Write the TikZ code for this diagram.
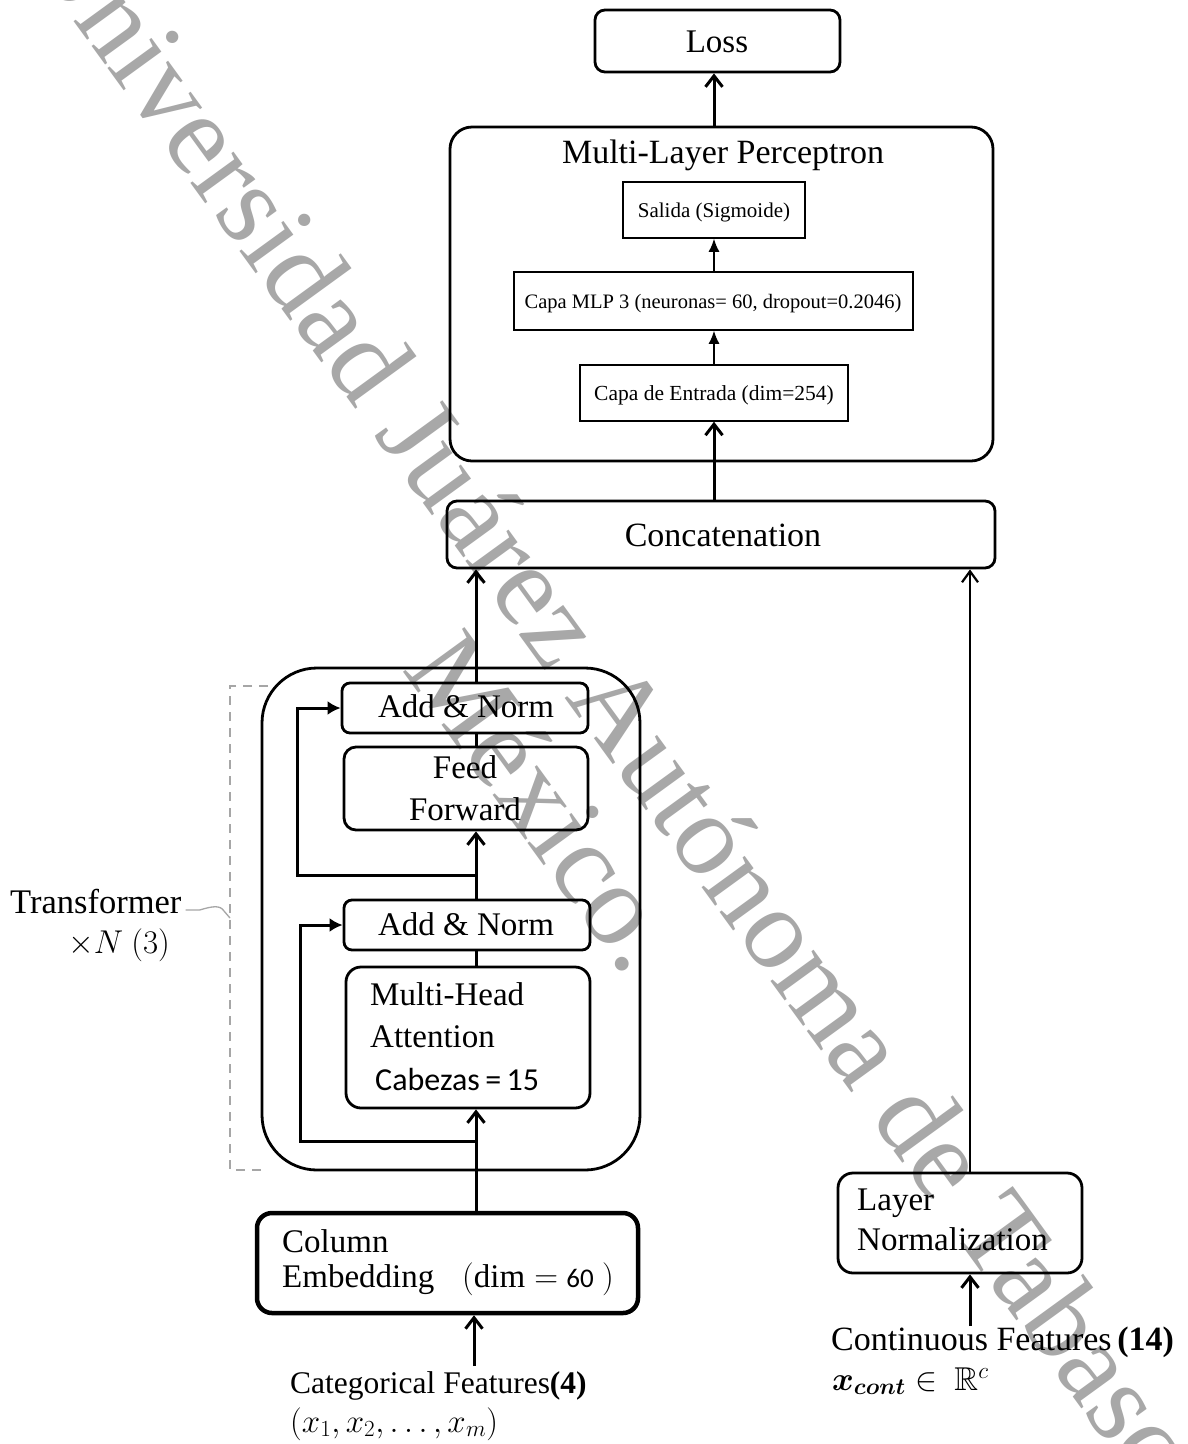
\RequirePackage{fix-cm}
\documentclass[tikz,border=0pt]{standalone}
\usepackage{amsmath,amssymb}
\usepackage{fontspec}
\setmainfont{Liberation Serif}
\newfontfamily\carl{Carlito}
\usetikzlibrary{arrows.meta}
\definecolor{wmgray}{gray}{0.66}

\begin{document}
\begin{tikzpicture}[x=1pt,y=-1pt,
  rbox/.style={draw, line width=2.8pt, inner sep=0pt, rounded corners=10pt},
  sbox/.style={draw, line width=1.5pt, inner sep=0pt},
  txt/.style={inner sep=0pt, font=\fontsize{33}{40}\selectfont},
  wm/.style={inner sep=0pt, text=wmgray, font=\fontsize{116}{130}\selectfont},
  arr/.style={line width=3pt, -{Straight Barb[length=11pt,width=17pt]}},
  thinarr/.style={line width=2.2pt, -{Straight Barb[length=11pt,width=16pt]}},
  farr/.style={line width=1.6pt, -{Latex[length=13pt,width=11pt]}},
  rarr/.style={line width=3pt, -{Latex[length=13pt,width=14pt]}},
  link/.style={line width=3pt},
  brk/.style={draw=gray!70, line width=1.4pt, dash pattern=on 9pt off 7pt}
]
\useasboundingbox (0,0) rectangle (1187,1444);
\fill[white] (0,0) rectangle (1187,1444);

% watermark
\node[wm, anchor=base west, rotate=-54] (wm1) at (23,-48) {Universidad Juárez Autónoma de Tabasco.};
\node[wm, anchor=base west, rotate=-54] (wm2) at (401,669) {México.};

% MLP part
\node[rbox, minimum width=245pt, minimum height=62pt] (loss) at (717.5,41) {};
\node[txt, anchor=base] (losst) at (717,52) {Loss};
\node[rbox, rounded corners=22pt, minimum width=543pt, minimum height=334pt] (mlp) at (721.5,294) {};
\node[txt, anchor=base, font=\fontsize{34}{40}\selectfont] (mlpt) at (723,163) {Multi-Layer Perceptron};
\node[sbox, minimum width=182pt, minimum height=56pt] (salida) at (714,210) {};
\node[txt, anchor=base, font=\fontsize{21}{24}\selectfont] (salidat) at (714,217) {Salida (Sigmoide)};
\node[sbox, minimum width=399pt, minimum height=58pt] (mlp3) at (713.5,301) {};
\node[txt, anchor=base, font=\fontsize{20.5}{24}\selectfont] (mlp3t) at (713,308) {Capa MLP 3 (neuronas= 60, dropout=0.2046)};
\node[sbox, minimum width=268pt, minimum height=56pt] (entrada) at (714,393) {};
\node[txt, anchor=base, font=\fontsize{21.5}{24}\selectfont] (entradat) at (714,400) {Capa de Entrada (dim=254)};

\node[rbox, minimum width=548pt, minimum height=67pt] (concat) at (721,534.5) {};
\node[txt, anchor=base, font=\fontsize{34}{40}\selectfont] (concatt) at (723,546) {Concatenation};

\coordinate (mx) at (714,0);
\draw[arr] (mlp.north -| mx) -- (loss.south -| mx);
\draw[farr] (mlp3.north -| mx) -- (salida.south -| mx);
\draw[farr] (entrada.north -| mx) -- (mlp3.south -| mx);
\draw[arr] (concat.north -| mx) -- (entrada.south -| mx);

% Transformer block
\node[rbox, rounded corners=55pt, minimum width=378pt, minimum height=502pt] (trans) at (451,919) {};
\node[rbox, rounded corners=8pt, minimum width=246pt, minimum height=50pt] (an1) at (465,708) {};
\node[txt, anchor=base] (an1t) at (466,717) {Add \& Norm};
\node[rbox, rounded corners=12pt, minimum width=244pt, minimum height=83pt] (ff) at (466,788.5) {};
\node[txt, anchor=base] (fft1) at (465,778) {Feed};
\node[txt, anchor=base] (fft2) at (465,820) {Forward};
\node[rbox, rounded corners=8pt, minimum width=246pt, minimum height=50pt] (an2) at (467,925) {};
\node[txt, anchor=base] (an2t) at (466,935) {Add \& Norm};
\node[rbox, rounded corners=15pt, minimum width=244pt, minimum height=141pt] (mha) at (468,1037.5) {};
\node[txt, anchor=base west] (mhat1) at (370,1005) {Multi-Head};
\node[txt, anchor=base west] (mhat2) at (370,1047) {Attention};
\node[txt, anchor=base west, font=\carl\fontsize{32}{36}\selectfont] (mhat3) at (375,1090) {Cabezas\,=\,15};

% column embedding
\node[rbox, line width=4.5pt, rounded corners=15pt, minimum width=381pt, minimum height=100pt] (ce) at (447.5,1263) {};
\node[txt, anchor=base west] (cet1) at (282,1252) {Column};
\node[txt, anchor=base west] (cet2) at (282,1287) {Embedding};
\node[txt, anchor=base west] (cet3) at (462,1287) {$(\mathrm{dim} =$\ {\carl\fontsize{27}{30}\selectfont 60} $)$};

\node[txt, anchor=base west, font=\fontsize{31.5}{36}\selectfont] (cat1) at (290,1393) {Categorical Features\textbf{(4)}};
\node[txt, anchor=base west] (cat2) at (290,1432) {$(x_1, x_2, \ldots, x_m)$};

% layer norm
\node[rbox, rounded corners=15pt, minimum width=244pt, minimum height=100pt] (ln) at (960,1223) {};
\node[txt, anchor=base west] (lnt1) at (857,1210) {Layer};
\node[txt, anchor=base west] (lnt2) at (857,1250) {Normalization};
\node[txt, anchor=base west, font=\fontsize{34}{40}\selectfont] (cont1) at (831,1350) {Continuous Features\,\textbf{(14)}};
\node[txt, anchor=base west] (cont2) at (832,1390) {$\boldsymbol{x}_{\boldsymbol{cont}} \in\ \mathbb{R}^{c}$};

% Transformer label
\node[txt, anchor=base west, font=\fontsize{34.5}{40}\selectfont] (tr) at (10,913) {Transformer};
\node[txt, anchor=base west] (trn) at (68,953) {$\times N\ (3)$};

% connectors in transformer
\coordinate (sp) at (476,1141);
\coordinate (sp2) at (476,875);
\coordinate (r1) at (300,1141);
\coordinate (r2) at (297,875);
\draw[arr] (ce.north -| sp) -- (mha.south -| sp);
\draw[link] (mha.north -| sp) -- (an2.south -| sp);
\draw[arr] (an2.north -| sp) -- (ff.south -| sp);
\draw[link] (ff.north -| sp) -- (an1.south -| sp);
\draw[arr] (an1.north -| sp) -- (concat.south -| sp);
\draw[rarr] (sp) -- (r1) |- (an2.west);
\draw[rarr] (sp2) -- (r2) |- (an1.west);

\coordinate (catin) at (474,1366);
\draw[arr] (catin) -- (ce.south -| catin);
\coordinate (contin) at (970,1326);
\draw[arr] (contin) -- (ln.south -| contin);
\draw[thinarr] (ln.north -| contin) -- (concat.south -| contin);

% bracket
\coordinate (bt) at (268,686);
\coordinate (bb) at (266,1170);
\coordinate (bm) at (230,918);
\draw[brk] (bt) -- (230,686) -- (230,1170) -- (bb);
\draw[draw=gray!70, line width=1.3pt] (tr.east |- 0,910) ++(4,0) -- ++(14,0) .. controls (213,906) and (220,905) .. (224,911) -- (bm);
\end{tikzpicture}
\end{document}
